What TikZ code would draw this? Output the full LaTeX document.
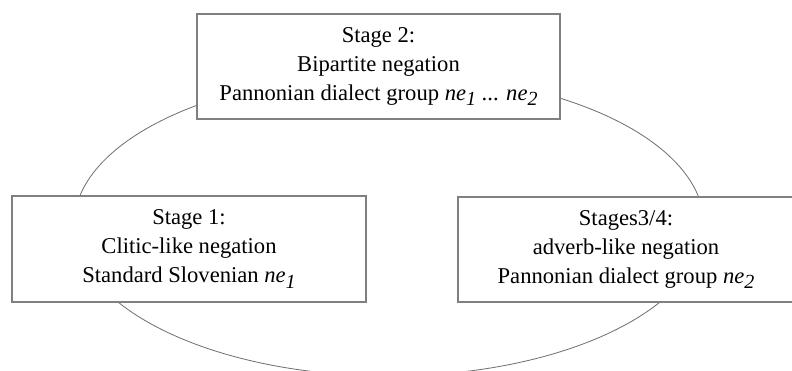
\documentclass[tikz,border=0pt]{standalone}
\usepackage{fontspec}
\setmainfont{Liberation Serif}
\newcommand{\negsub}[1]{\textit{ne}\raisebox{-5.5pt}{\fontsize{20}{20}\selectfont\textit{#1}}}
\begin{document}
\begin{tikzpicture}[x=1pt,y=1pt,
  stagebox/.style={draw={rgb,255:red,128;green,128;blue,128}, line width=1.1pt,
    fill=white, rectangle, align=center, inner sep=0pt,
    font=\fontsize{22.6}{29}\selectfont},
  cycle/.style={draw={rgb,255:red,110;green,110;blue,110}, line width=0.8pt}]
\clip (0,0) rectangle (792,370);
\useasboundingbox (0,0) rectangle (792,370);
\fill[white] (0,0) rectangle (792,370);
% the cycle of negation stages
\draw[cycle] (389,145) ellipse [x radius=315, y radius=151];
\node[stagebox, minimum width=363pt, minimum height=105pt] (s2) at (378.5,303.5)
  {Stage 2:\\Bipartite negation\\Pannonian dialect group \negsub{1} ... \negsub{2}};
\node[stagebox, minimum width=354pt, minimum height=106pt] (s1) at (189,121)
  {Stage 1:\\Clitic-like negation\\Standard Slovenian \negsub{1}};
\node[stagebox, minimum width=336pt, minimum height=105pt] (s34) at (626,120.5)
  {Stages3/4:\\adverb-like negation\\Pannonian dialect group \negsub{2}};
\end{tikzpicture}
\end{document}
